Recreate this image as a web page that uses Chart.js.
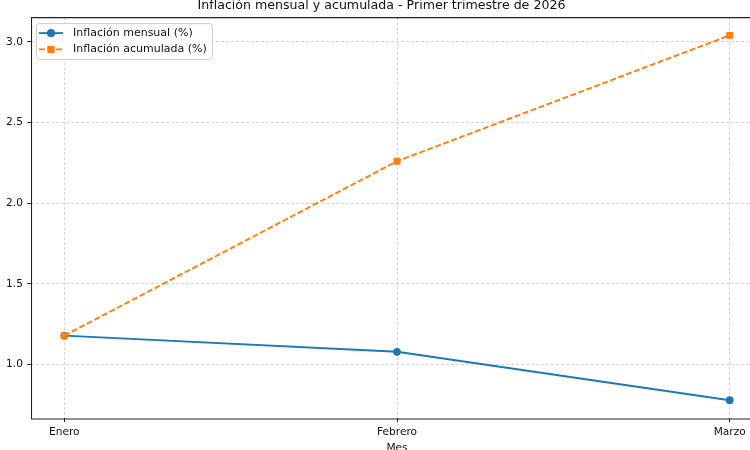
<!DOCTYPE html>
<html>
<head>
<meta charset="utf-8">
<script src="https://cdn.jsdelivr.net/npm/chart.js@4/dist/chart.umd.min.js"></script>
<style>
  html, body { margin: 0; padding: 0; background: #fff; overflow: hidden; width: 750px; height: 450px; }
  #wrap { position: absolute; left: 0; top: -2px; width: 794px; height: 460px; }
</style>
</head>
<body>
<div id="wrap"><canvas id="lineChart"></canvas></div>
<script>
const FONT = '"DejaVu Sans", sans-serif';

const months = ['Enero', 'Febrero', 'Marzo'];
const mensual = [1.18, 1.08, 0.78];
const acumulada = [1.18, 2.26, 3.04];
const yTicks = [1.0, 1.5, 2.0, 2.5, 3.0];
const seriesNames = ['Inflación mensual (%)', 'Inflación acumulada (%)'];

const BLUE = '#1f77b4';
const ORANGE = '#ff7f0e';
const TEXT = '#111';

// matplotlib style spines + legend box in the upper left
const framePlugin = {
  id: 'frame',
  afterDraw(chart) {
    const { ctx, chartArea: a } = chart;
    ctx.save();
    ctx.strokeStyle = '#222';
    ctx.lineWidth = 1.1;
    ctx.beginPath();
    ctx.moveTo(a.right, a.top + 0.5);
    ctx.lineTo(a.left + 0.5, a.top + 0.5);
    ctx.lineTo(a.left + 0.5, a.bottom + 0.5);
    ctx.lineTo(a.right, a.bottom + 0.5);
    ctx.stroke();

    // legend
    const x0 = a.left + 5, y0 = a.top + 6, w = 176, h = 36;
    ctx.fillStyle = 'rgba(255,255,255,0.85)';
    ctx.strokeStyle = '#cccccc';
    ctx.lineWidth = 1;
    ctx.beginPath();
    ctx.roundRect(x0 + 0.5, y0 + 0.5, w, h, 3);
    ctx.fill();
    ctx.stroke();

    const rows = [
      { color: BLUE, dash: [], style: 'circle', r: 3.9 },
      { color: ORANGE, dash: [6, 2.5], style: 'rect', r: 4.9 }
    ];
    rows.forEach((row, i) => {
      const y = y0 + 10 + i * 16.3;
      ctx.strokeStyle = row.color;
      ctx.lineWidth = 1.9;
      ctx.setLineDash(row.dash);
      ctx.beginPath();
      ctx.moveTo(x0 + 3, y);
      ctx.lineTo(x0 + 27, y);
      ctx.stroke();
      ctx.setLineDash([]);
      ctx.fillStyle = row.color;
      Chart.helpers.drawPoint(ctx, { pointStyle: row.style, rotation: 0, borderWidth: 0, radius: row.r }, x0 + 15, y);
      ctx.fill();
      ctx.fillStyle = TEXT;
      ctx.font = '11px ' + FONT;
      ctx.textBaseline = 'middle';
      ctx.fillText(seriesNames[i], x0 + 37, y);
    });
    ctx.restore();
  }
};

const ctx = document.getElementById('lineChart').getContext('2d');
new Chart(ctx, {
  type: 'line',
  data: {
    datasets: [
      {
        label: seriesNames[0],
        data: mensual.map((v, i) => ({ x: i, y: v })),
        borderColor: BLUE,
        backgroundColor: BLUE,
        borderWidth: 1.9,
        pointStyle: 'circle',
        pointRadius: 3.9,
        pointBorderWidth: 0,
        order: 1,
      },
      {
        label: seriesNames[1],
        data: acumulada.map((v, i) => ({ x: i, y: v })),
        borderColor: ORANGE,
        backgroundColor: ORANGE,
        borderWidth: 1.9,
        borderDash: [6, 2.5],
        pointStyle: 'rect',
        pointRadius: 4.9,
        pointBorderWidth: 0,
        order: 0,
      },
    ],
  },
  options: {
    responsive: true,
    maintainAspectRatio: false,
    animation: false,
    layout: { padding: { left: 0, right: 31, top: 0, bottom: 0 } },
    plugins: {
      legend: { display: false },
      tooltip: { enabled: false },
      title: {
        display: true,
        text: 'Inflación mensual y acumulada - Primer trimestre de 2026',
        color: TEXT,
        font: { family: FONT, size: 12.6, weight: 'normal' },
        padding: { top: 0, bottom: 4 },
      },
    },
    scales: {
      x: {
        type: 'linear',
        min: -0.1,
        max: 2.1,
        afterBuildTicks(scale) {
          scale.ticks = months.map((m, i) => ({ value: i }));
        },
        ticks: {
          color: TEXT,
          padding: 3.6,
          font: { family: FONT, size: 10.6 },
          callback: (v) => months[v],
        },
        grid: {
          color: '#d4d4d4',
          lineWidth: 1,
          tickLength: 3.6,
          tickColor: '#222',
          tickWidth: 1,
          tickBorderDash: [],
        },
        border: { display: false, dash: [3, 2] },
        title: {
          display: true,
          text: 'Mes',
          color: TEXT,
          font: { family: FONT, size: 10.6 },
          padding: { top: 0, bottom: 3.3 },
        },
      },
      y: {
        min: 0.667,
        max: 3.153,
        afterBuildTicks(scale) {
          scale.ticks = yTicks.map(v => ({ value: v }));
        },
        afterFit(scale) { scale.width = 31; },
        ticks: {
          color: TEXT,
          padding: 4.5,
          font: { family: FONT, size: 10.6 },
          callback: (v) => v.toFixed(1),
        },
        grid: {
          color: '#d4d4d4',
          lineWidth: 1,
          tickLength: 3.6,
          tickColor: '#222',
          tickWidth: 1,
          tickBorderDash: [],
        },
        border: { display: false, dash: [3, 2] },
      },
    },
  },
  plugins: [framePlugin],
});
</script>
</body>
</html>
